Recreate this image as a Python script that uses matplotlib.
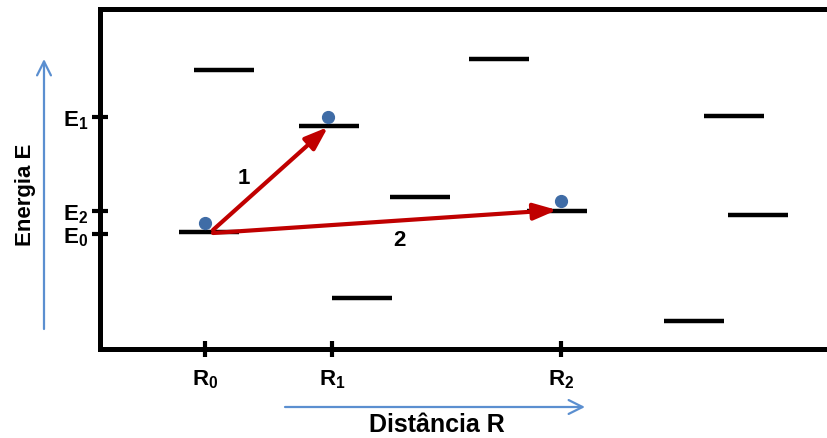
import matplotlib
matplotlib.use("Agg")
import matplotlib.pyplot as plt

plt.rcParams["font.family"] = ["Liberation Sans", "DejaVu Sans"]
plt.rcParams["mathtext.fontset"] = "custom"
plt.rcParams["mathtext.rm"] = "Liberation Sans:bold"
plt.rcParams["mathtext.it"] = "Liberation Sans:bold"

# ── Data (distance R vs. energy E, arbitrary units) ──────────────────────────
level_r = [124, 228.5, 108.5, 399, 319.5, 457, 261.5, 634, 658, 594]
level_e = [279, 223, 117, 290, 152, 138, 51, 233, 134, 28]
level_w = 60

e_ticks = [232, 138, 115]
e_labels = [r"$\mathrm{E_1}$", r"$\mathrm{E_2}$", r"$\mathrm{E_0}$"]
r_ticks = [105, 232, 461]
r_labels = [r"$\mathrm{R_0}$", r"$\mathrm{R_1}$", r"$\mathrm{R_2}$"]

dot_r = [105, 228, 461]
dot_e = [126, 232, 148]

# transitions: start, end, label and label position
trans_start = [(113, 119), (113, 116)]
trans_end = [(228, 222), (457, 139)]
trans_label = ["1", "2"]
trans_label_pos = [(144, 172), (299, 109)]

RED = "#c00000"
BLUE = "#5b8fd0"
DOT = "#3f6ca6"

# ── Figure ──────────────────────────────────────────────────────────────────
W, H = 827, 439
fig = plt.figure(figsize=(W / 100, H / 100), dpi=100)
ax = fig.add_axes([100 / W, (H - 350) / H, 740 / W, 340 / H])
ax.set_xlim(0, 740)
ax.set_ylim(0, 340)

for s in ["left", "top", "bottom"]:
    ax.spines[s].set_linewidth(3.6)
ax.spines["right"].set_visible(False)

# energy levels
for r, e in zip(level_r, level_e):
    ax.plot([r - level_w / 2, r + level_w / 2], [e, e], color="black",
            lw=3.2, solid_capstyle="butt")

# electrons
ax.plot(dot_r, dot_e, "o", color=DOT, ms=8.5, mec=DOT, zorder=4)

# transitions
for (x0, y0), (x1, y1), lab, (lx, ly) in zip(trans_start, trans_end,
                                               trans_label, trans_label_pos):
    ax.annotate("", xy=(x1, y1), xytext=(x0, y0),
                arrowprops=dict(arrowstyle="-|>,head_length=1.4,head_width=0.5",
                                color=RED, lw=3, mutation_scale=10,
                                shrinkA=0, shrinkB=0), zorder=3)
    ax.text(lx, ly, lab, fontsize=16, fontweight="bold", ha="center", va="center")

ax.set_yticks(e_ticks)
ax.set_yticklabels(e_labels, fontsize=16)
ax.set_xticks(r_ticks)
ax.set_xticklabels(r_labels, fontsize=16)
ax.tick_params(axis="both", direction="inout", length=11, width=3, color="black")
ax.tick_params(axis="y", pad=3)
ax.tick_params(axis="x", pad=8)

# axis labels with arrows (figure pixel coords)
fig.text(25 / W, (H - 195) / H, "Energia E", rotation=90, fontsize=16,
         fontweight="bold", ha="center", va="center")
fig.text(437 / W, (H - 425) / H, "Distância R", fontsize=18,
         fontweight="bold", ha="center", va="center")
arr = dict(arrowstyle="->,head_length=1.0,head_width=0.5", color=BLUE, lw=1.6,
           mutation_scale=10, shrinkA=0, shrinkB=0)
fig.add_artist(matplotlib.patches.FancyArrowPatch(
    (44, H - 330), (44, H - 60), transform=None, **arr))
fig.add_artist(matplotlib.patches.FancyArrowPatch(
    (285, H - 408), (585, H - 408), transform=None, **arr))

fig.savefig("out.png", dpi=100)
